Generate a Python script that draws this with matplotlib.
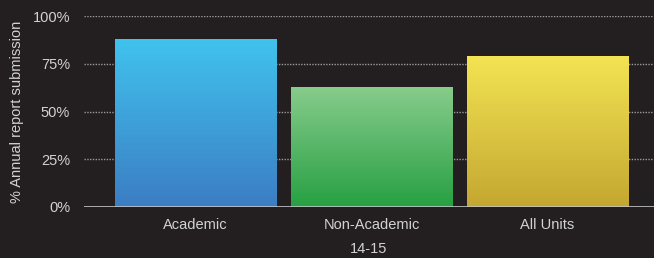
import matplotlib
matplotlib.use("Agg")
import matplotlib.pyplot as plt
from matplotlib.colors import LinearSegmentedColormap
import numpy as np

# ── Data ──────────────────────────────────────────────────────────────────────
categories = ["Academic", "Non-Academic", "All Units"]
submission_pct = [88, 63, 79]
y_ticks = [0, 25, 50, 75, 100]
y_tick_labels = ["0%", "25%", "50%", "75%", "100%"]

# top colour, bottom colour for each bar
gradients = [
    ("#41c3ee", "#3b7dc3"),
    ("#88cc8c", "#27a043"),
    ("#f3e453", "#c4a731"),
]

BG = "#231f20"
TXT = "#d2d2d2"

plt.rcParams["font.family"] = ["Liberation Sans", "DejaVu Sans"]

fig = plt.figure(figsize=(6.54, 2.58), dpi=100)
fig.patch.set_facecolor(BG)
ax = fig.add_axes([84 / 654, 51 / 258, 570 / 654, 191 / 258])
ax.set_facecolor(BG)

x = np.arange(len(categories))
bars = ax.bar(x, submission_pct, width=0.915, facecolor="none",
              edgecolor="none", zorder=3)

grad = np.linspace(0, 1, 256).reshape(-1, 1)
for bar, (top, bottom) in zip(bars, gradients):
    cmap = LinearSegmentedColormap.from_list("g", [top, bottom])
    x0, y0 = bar.get_x(), bar.get_y()
    w, h = bar.get_width(), bar.get_height()
    im = ax.imshow(grad, cmap=cmap, aspect="auto",
                   extent=[x0, x0 + w, y0, y0 + h], origin="upper", zorder=3)
    im.set_clip_path(bar)

ax.set_xlim(-0.634, 2.605)
ax.set_ylim(0, 100)

for t in y_ticks[1:]:
    ax.axhline(t, color="#9a9a9a", linestyle=(0, (1.0, 1.0)), linewidth=1.0,
               zorder=1)
ax.axhline(0, color="#c4c4c4", linewidth=1.2, zorder=4)

for spine in ax.spines.values():
    spine.set_visible(False)

ax.set_yticks(y_ticks)
ax.set_yticklabels(y_tick_labels)
ax.set_xticks(x)
ax.set_xticklabels(categories)
ax.tick_params(axis="both", length=0, colors=TXT, labelsize=10.5)
ax.tick_params(axis="y", pad=10)
ax.tick_params(axis="x", pad=8)

ax.set_ylabel("% Annual report submission", color=TXT, fontsize=10.5,
              labelpad=6)
ax.set_xlabel("14-15", color=TXT, fontsize=10.5, labelpad=7)

fig.savefig("out.png", dpi=100, facecolor=BG)
